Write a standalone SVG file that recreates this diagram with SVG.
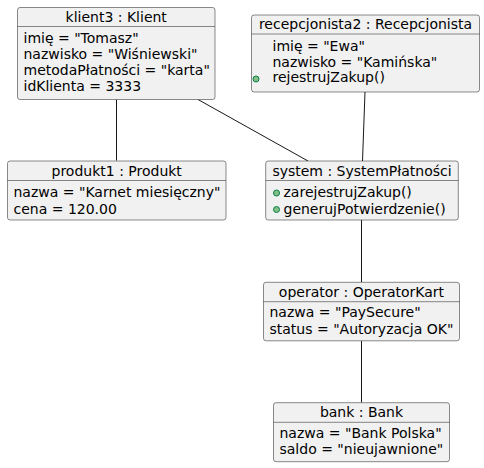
<svg xmlns="http://www.w3.org/2000/svg" width="484" height="468" viewBox="0 0 484 468">
<style>
.box{fill:#F1F1F1;stroke:#181818;stroke-width:0.5}
.sep{stroke:#181818;stroke-width:0.5}
text{font-family:"DejaVu Sans",sans-serif;font-size:14px;fill:#000}
.t{text-anchor:middle}
.m{fill:#84BE84;stroke:#038048;stroke-width:1}
.c{stroke:#181818;stroke-width:1;fill:none}
</style>
<rect width="484" height="468" fill="#FFFFFF"/>
<g id="connectors">
<line class="c" x1="116.5" y1="99.5" x2="116.5" y2="160.5"/>
<line class="c" x1="198" y1="99.5" x2="308" y2="161"/>
<line class="c" x1="365" y1="92" x2="362.5" y2="161"/>
<line class="c" x1="361.5" y1="220" x2="361.5" y2="282"/>
<line class="c" x1="361.5" y1="341" x2="361.5" y2="402.5"/>
</g>
<g id="klient3">
<rect class="box" x="17.5" y="7.5" width="197.5" height="92" rx="2.5"/>
<line class="sep" x1="17.5" y1="26.5" x2="215" y2="26.5"/>
<text class="t" x="116.2" y="21.5">klient3 : Klient</text>
<text x="23.5" y="43">imię = "Tomasz"</text>
<text x="23.5" y="59">nazwisko = "Wiśniewski"</text>
<text x="23.5" y="75">metodaPłatności = "karta"</text>
<text x="23.5" y="91">idKlienta = 3333</text>
</g>
<g id="recepcjonista2">
<rect class="box" x="251.5" y="15" width="228" height="77" rx="2.5"/>
<line class="sep" x1="251.5" y1="34" x2="479.5" y2="34"/>
<text class="t" x="365.5" y="29">recepcjonista2 : Recepcjonista</text>
<text x="272.5" y="51">imię = "Ewa"</text>
<text x="272.5" y="66.5">nazwisko = "Kamińska"</text>
<circle class="m" cx="256" cy="79" r="3"/>
<text x="272.5" y="82">rejestrujZakup()</text>
</g>
<g id="produkt1">
<rect class="box" x="7.5" y="161" width="218.5" height="59" rx="2.5"/>
<line class="sep" x1="7.5" y1="180.5" x2="226" y2="180.5"/>
<text class="t" x="116.7" y="175.5">produkt1 : Produkt</text>
<text x="13.5" y="197">nazwa = "Karnet miesięczny"</text>
<text x="13.5" y="213.5">cena = 120.00</text>
</g>
<g id="system">
<rect class="box" x="265.7" y="161" width="192.6" height="59" rx="2.5"/>
<line class="sep" x1="265.7" y1="180.5" x2="458.3" y2="180.5"/>
<text class="t" x="362" y="175.5">system : SystemPłatności</text>
<circle class="m" cx="276.5" cy="193" r="3"/>
<text x="283.5" y="197">zarejestrujZakup()</text>
<circle class="m" cx="276.5" cy="209.5" r="3"/>
<text x="283.5" y="213.5">generujPotwierdzenie()</text>
</g>
<g id="operator">
<rect class="box" x="263.5" y="282.3" width="196" height="58.5" rx="2.5"/>
<line class="sep" x1="263.5" y1="301.7" x2="459.5" y2="301.7"/>
<text class="t" x="361.5" y="296.5">operator : OperatorKart</text>
<text x="269.5" y="317">nazwa = "PaySecure"</text>
<text x="269.5" y="333.5">status = "Autoryzacja OK"</text>
</g>
<g id="bank">
<rect class="box" x="273.5" y="402.7" width="176" height="59" rx="2.5"/>
<line class="sep" x1="273.5" y1="422.3" x2="449.5" y2="422.3"/>
<text class="t" x="361.5" y="417">bank : Bank</text>
<text x="279.5" y="437.5">nazwa = "Bank Polska"</text>
<text x="279.5" y="454">saldo = "nieujawnione"</text>
</g>
</svg>
